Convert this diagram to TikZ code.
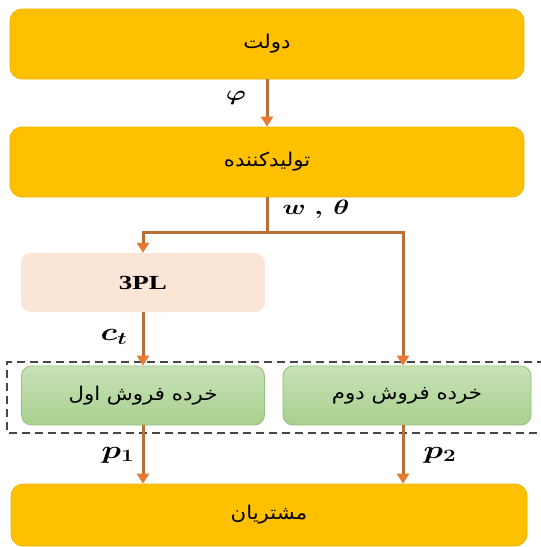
\documentclass[tikz,border=0pt]{standalone}
\usepackage{fontspec}
\usepackage{graphicx}
\usetikzlibrary{arrows.meta,calc}
\TeXXeTstate=1
\newfontfamily\arabicfont[Script=Arabic]{DejaVu Sans}
\newfontfamily\tnrfont{Liberation Serif}
\definecolor{gold}{RGB}{255,192,0}
\definecolor{goldedge}{RGB}{240,178,0}
\definecolor{shaftc}{RGB}{184,112,56}
\definecolor{tipc}{RGB}{232,121,49}
\definecolor{peach}{RGB}{251,229,214}
\definecolor{greentop}{RGB}{200,226,184}
\definecolor{greenbot}{RGB}{168,208,142}
\definecolor{greenedge}{RGB}{150,190,125}
\definecolor{dashc}{RGB}{70,70,70}
\newcommand\fa[1]{\scalebox{1.12}[1]{\fontsize{19}{21}\arabicfont\beginR #1\endR}}
\newcommand\lbl[2]{\scalebox{1.3}[1]{\fontsize{#1}{#1}\selectfont\boldmath$#2$}}
\tikzset{
  goldbox/.style={draw=goldedge, line width=0.8pt, fill=gold, rounded corners=12pt, inner sep=0pt},
  peachbox/.style={fill=peach, rounded corners=10pt, inner sep=0pt},
  greenbox/.style={draw=greenedge, line width=0.8pt, top color=greentop, bottom color=greenbot, rounded corners=10pt, inner sep=0pt},
  conn/.style={draw=shaftc, line width=3pt},
  arr/.style={conn, -{Triangle[length=10pt,width=12pt,color=tipc]}},
  frame/.style={draw=dashc, line width=1.2pt, dash pattern=on 8pt off 5pt}
}
\begin{document}
\begin{tikzpicture}[x=1pt,y=-1pt]
\useasboundingbox (0,0) rectangle (541,547);
% boxes
\node[goldbox, minimum width=514pt, minimum height=70pt] (gov) at (267,44) {\fa{دولت}};
\node[goldbox, minimum width=514pt, minimum height=70pt] (prod) at (267,162) {\fa{تولیدکننده}};
\node[peachbox, minimum width=244pt, minimum height=59pt] (tpl) at (143,282.5) {\scalebox{1.35}[1]{\fontsize{20}{22}\tnrfont\bfseries 3PL}};
\node[greenbox, minimum width=243pt, minimum height=59pt] (r1) at (143,395.5) {\fa{خرده فروش اول}};
\node[greenbox, minimum width=248pt, minimum height=59pt] (r2) at (407,395.5) {\fa{خرده فروش دوم}};
\node[goldbox, minimum width=516pt, minimum height=62pt] (cust) at (269,515) {\fa{مشتریان}};
% dashed frame (open on the right, beyond the picture)
\coordinate (fa) at (545,362);
\coordinate (fb) at (7,362);
\coordinate (fc) at (7,433);
\coordinate (fd) at (545,433);
\draw[frame] (fa) -- (fb) -- (fc) -- (fd);
% connectors
\draw[arr] (gov.south) -- (prod.north);
\draw[conn] (prod.south) -- ++(0,35) coordinate (br);
\draw[arr] (br) -| (tpl.north);
\draw[arr] (br) -| ($(r2.north)+(-4,0)$);
\draw[arr] (tpl.south) -- (r1.north);
\draw[arr] (r1.south) -- (r1.south |- cust.north);
\draw[arr] ($(r2.south)+(-4,0)$) -- ($(r2.south |- cust.north)+(-4,0)$);
% labels
\node (lphi) at (236,98) {\lbl{20}{\varphi}};
\node (lw) at (316,209) {\lbl{20}{w\;,\,\theta}};
\node (lc) at (114,337) {\lbl{24}{c_t}};
\node (lp1) at (118,455) {\lbl{24}{p_1}};
\node (lp2) at (440,455) {\lbl{24}{p_2}};
\end{tikzpicture}
\end{document}
